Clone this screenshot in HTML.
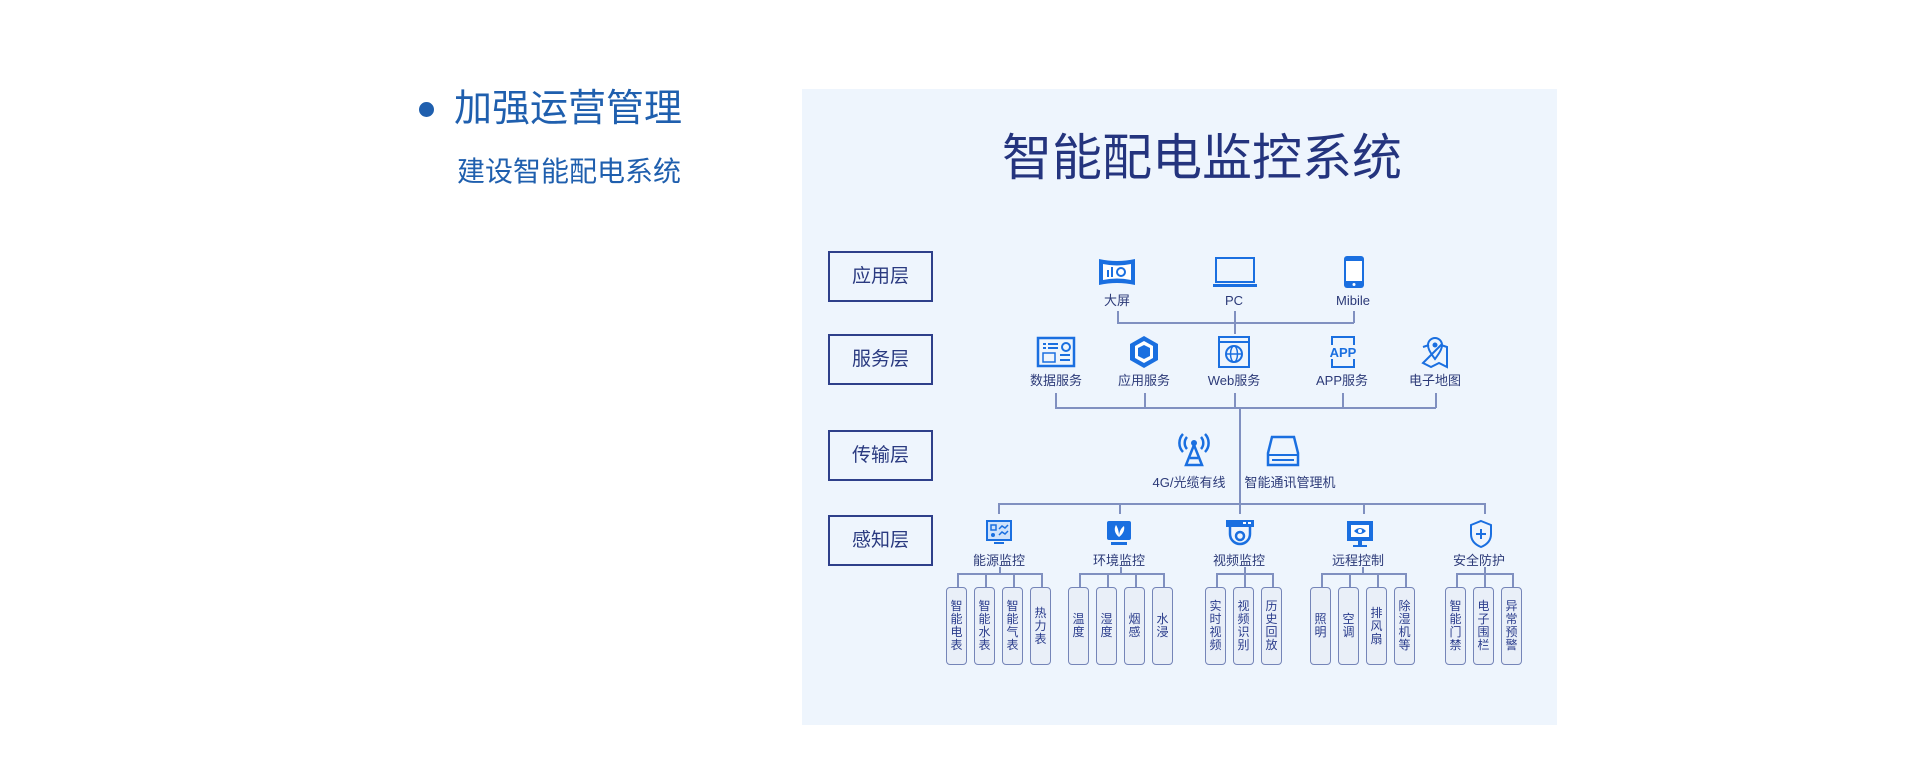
<!DOCTYPE html>
<html><head><meta charset="utf-8"><style>
body{margin:0;width:1920px;height:772px;background:#fff;position:relative;overflow:hidden;font-family:"Liberation Sans","Noto Sans CJK SC",sans-serif}
.a{position:absolute}
.lb{position:absolute;width:200px;text-align:center;font-size:13px;color:#2c3a78;line-height:16px}
.ly{position:absolute;left:828px;width:101px;height:47px;border:2px solid #2e3f8a;box-sizing:content-box;font-size:19px;color:#2a3a80;text-align:center;line-height:47px}
.bx{position:absolute;top:587px;width:19px;height:76px;border:1.5px solid #7585b8;border-radius:4px;background:#e9eff8;font-size:12px;line-height:13px;color:#2b3d8c;display:flex;align-items:center;justify-content:center;text-align:center;width:19px}
.h{position:absolute;height:1.5px;background:#8090c0}
.v{position:absolute;width:1.5px;background:#8090c0}
svg{position:absolute}
</style></head><body>
<div class="a" style="left:419px;top:102px;width:15px;height:15px;border-radius:50%;background:#1f5fae"></div>
<div class="a" style="left:454px;top:86px;font-size:38px;color:#1f5fae;line-height:46px">加强运营管理</div>
<div class="a" style="left:457px;top:155px;font-size:28px;color:#1f5fae;line-height:34px">建设智能配电系统</div>

<div class="a" style="left:802px;top:89px;width:755px;height:636px;background:#eef5fd"></div>
<div class="a" style="left:802px;top:128px;width:800px;text-align:center;font-size:50px;color:#24347e;line-height:60px">智能配电监控系统</div>

<div class="ly" style="top:251px">应用层</div>
<div class="ly" style="top:334px">服务层</div>
<div class="ly" style="top:430px">传输层</div>
<div class="ly" style="top:515px">感知层</div>

<svg style="left:1097px;top:257px" width="40" height="30" viewBox="0 0 40 30"><path d="M2 2 Q20 6 38 2 L38 28 Q20 24 2 28Z" fill="#1a6fe0"/><path d="M6 7 Q20 10 34 7 L34 23 Q20 20 6 23Z" fill="#fff"/><rect x="10" y="13" width="2" height="7" fill="#1a6fe0"/><rect x="14" y="10" width="2" height="10" fill="#1a6fe0"/><circle cx="24" cy="15" r="4" fill="none" stroke="#1a6fe0" stroke-width="2"/></svg>
<svg style="left:1212px;top:256px" width="46" height="32" viewBox="0 0 46 32"><rect x="4" y="2" width="38" height="24" fill="none" stroke="#1a6fe0" stroke-width="2"/><rect x="1" y="28" width="44" height="3" fill="#1a6fe0"/></svg>
<svg style="left:1342px;top:255px" width="24" height="34" viewBox="0 0 24 34"><rect x="2" y="1" width="20" height="32" rx="3" fill="#1a6fe0"/><rect x="4" y="6" width="16" height="20" fill="#fff"/><circle cx="12" cy="29.5" r="1.5" fill="#fff"/></svg>
<div class="lb" style="left:1017px;top:293px">大屏</div>
<div class="lb" style="left:1134px;top:293px">PC</div>
<div class="lb" style="left:1253px;top:293px">Mibile</div>
<div class="v" style="left:1117px;top:311px;height:12px"></div>
<div class="v" style="left:1353px;top:311px;height:12px"></div>
<div class="v" style="left:1234px;top:311px;height:23px"></div>
<div class="h" style="left:1117px;top:322px;width:237px"></div>

<svg style="left:1036px;top:336px" width="40" height="32" viewBox="0 0 40 32"><rect x="2" y="2" width="36" height="28" fill="none" stroke="#1a6fe0" stroke-width="2.5"/><rect x="7" y="7" width="3" height="2" fill="#1a6fe0"/><rect x="12" y="7" width="10" height="2" fill="#1a6fe0"/><rect x="7" y="11" width="3" height="2" fill="#1a6fe0"/><rect x="12" y="11" width="10" height="2" fill="#1a6fe0"/><circle cx="30" cy="11" r="4" fill="none" stroke="#1a6fe0" stroke-width="2"/><rect x="7" y="17" width="12" height="9" fill="none" stroke="#1a6fe0" stroke-width="1.5"/><rect x="24" y="18" width="10" height="2" fill="#1a6fe0"/><rect x="24" y="23" width="10" height="2" fill="#1a6fe0"/></svg>
<svg style="left:1128px;top:335px" width="32" height="34" viewBox="0 0 32 34"><path d="M16 1 L30 9 L30 25 L16 33 L2 25 L2 9Z" fill="#1a6fe0"/><path d="M16 6 L25 11 L25 23 L16 28 L7 23 L7 11Z" fill="#fff"/><path d="M16 10 L22 13 L22 21 L16 24 L10 21 L10 13Z" fill="#1a6fe0"/></svg>
<svg style="left:1217px;top:335px" width="34" height="34" viewBox="0 0 34 34"><rect x="2" y="2" width="30" height="30" fill="none" stroke="#1a6fe0" stroke-width="2"/><line x1="2" y1="7" x2="32" y2="7" stroke="#1a6fe0" stroke-width="2"/><circle cx="17" cy="19" r="8" fill="none" stroke="#1a6fe0" stroke-width="2"/><line x1="9" y1="19" x2="25" y2="19" stroke="#1a6fe0" stroke-width="1.5"/><ellipse cx="17" cy="19" rx="3.5" ry="8" fill="none" stroke="#1a6fe0" stroke-width="1.5"/></svg>
<svg style="left:1326px;top:335px" width="34" height="34" viewBox="0 0 34 34"><path d="M6 10 V2 H28 V10 M6 24 V32 H28 V24" fill="none" stroke="#1a6fe0" stroke-width="2"/><text x="17" y="22" text-anchor="middle" font-family="Liberation Sans" font-weight="bold" font-size="13" fill="#1a6fe0">APP</text></svg>
<svg style="left:1419px;top:335px" width="32" height="34" viewBox="0 0 32 34"><path d="M4 12 L10 10 M22 10 L28 12 L28 32 L20 28 L12 32 L4 28Z" fill="none" stroke="#1a6fe0" stroke-width="2"/><path d="M16 24 C10 16 9 13 9 10 A7 7 0 0 1 23 10 C23 13 22 16 16 24Z" fill="none" stroke="#1a6fe0" stroke-width="2"/><circle cx="16" cy="10" r="2.5" fill="#1a6fe0"/></svg>
<div class="lb" style="left:956px;top:373px">数据服务</div>
<div class="lb" style="left:1044px;top:373px">应用服务</div>
<div class="lb" style="left:1134px;top:373px">Web服务</div>
<div class="lb" style="left:1242px;top:373px">APP服务</div>
<div class="lb" style="left:1335px;top:373px">电子地图</div>
<div class="v" style="left:1055px;top:393px;height:15px"></div>
<div class="v" style="left:1144px;top:393px;height:15px"></div>
<div class="v" style="left:1234px;top:393px;height:15px"></div>
<div class="v" style="left:1342px;top:393px;height:15px"></div>
<div class="v" style="left:1435px;top:393px;height:15px"></div>
<div class="h" style="left:1055px;top:407px;width:381px"></div>

<svg style="left:1175px;top:431px" width="38" height="36" viewBox="0 0 38 36"><circle cx="19" cy="12" r="3" fill="#1a6fe0"/><path d="M12 6 A9 9 0 0 0 12 18 M26 6 A9 9 0 0 1 26 18 M8 3 A13 13 0 0 0 8 21 M30 3 A13 13 0 0 1 30 21" fill="none" stroke="#1a6fe0" stroke-width="2.5"/><path d="M19 14 L11 34 L27 34Z M15 27 H23" fill="none" stroke="#1a6fe0" stroke-width="2.5"/></svg>
<svg style="left:1266px;top:435px" width="34" height="32" viewBox="0 0 34 32"><path d="M6 2 H28 L32 18 V30 H2 V18Z" fill="none" stroke="#1a6fe0" stroke-width="2.5"/><line x1="2" y1="20" x2="32" y2="20" stroke="#1a6fe0" stroke-width="2"/><rect x="6" y="24" width="22" height="2" fill="#1a6fe0"/></svg>
<div class="lb" style="left:1089px;top:475px">4G/光缆有线</div>
<div class="lb" style="left:1190px;top:475px">智能通讯管理机</div>
<div class="v" style="left:1239px;top:408px;height:96px"></div>
<div class="v" style="left:1239px;top:492px;height:22px"></div>
<div class="h" style="left:998px;top:503px;width:487px"></div>
<div class="v" style="left:998px;top:503px;height:11px"></div>
<div class="v" style="left:1119px;top:503px;height:11px"></div>
<div class="v" style="left:1363px;top:503px;height:11px"></div>
<div class="v" style="left:1484px;top:503px;height:11px"></div>

<svg style="left:985px;top:519px" width="28" height="28" viewBox="0 0 28 28"><rect x="2" y="2" width="24" height="19" fill="#cfe2fb" stroke="#1a6fe0" stroke-width="2"/><rect x="6" y="6" width="5" height="5" fill="none" stroke="#1a6fe0" stroke-width="1.5"/><path d="M14 10 L17 7 L20 9 L23 6" fill="none" stroke="#1a6fe0" stroke-width="1.5"/><path d="M14 16 L17 13 L20 15 L23 12" fill="none" stroke="#1a6fe0" stroke-width="1.5"/><circle cx="8" cy="16" r="2" fill="#1a6fe0"/><rect x="9" y="23" width="10" height="2" fill="#1a6fe0"/></svg>
<svg style="left:1105px;top:519px" width="28" height="28" viewBox="0 0 28 28"><rect x="2" y="2" width="24" height="19" rx="2" fill="#1a6fe0"/><path d="M14 18 C9 14 9 9 11 6 C13 9 14 13 14 18 C14 13 16 9 19 7 C20 11 18 15 14 18Z" fill="#fff"/><rect x="6" y="23" width="16" height="3" fill="#1a6fe0"/></svg>
<svg style="left:1225px;top:519px" width="30" height="28" viewBox="0 0 30 28"><rect x="1" y="1" width="28" height="7" fill="#1a6fe0"/><rect x="18" y="3" width="3" height="2" fill="#fff"/><rect x="23" y="3" width="3" height="2" fill="#fff"/><path d="M5 8 V15 A10 10 0 0 0 25 15 V8" fill="none" stroke="#1a6fe0" stroke-width="2.5"/><circle cx="15" cy="17" r="4" fill="none" stroke="#1a6fe0" stroke-width="2.5"/></svg>
<svg style="left:1345px;top:520px" width="30" height="28" viewBox="0 0 30 28"><rect x="2" y="1" width="26" height="20" fill="#1a6fe0"/><rect x="6" y="5" width="18" height="12" fill="#fff"/><path d="M9 11 Q15 5 21 11 Q15 17 9 11Z" fill="#1a6fe0"/><circle cx="15" cy="11" r="2" fill="#fff"/><rect x="13" y="21" width="4" height="4" fill="#1a6fe0"/><rect x="8" y="25" width="14" height="2" fill="#1a6fe0"/></svg>
<svg style="left:1468px;top:519px" width="26" height="30" viewBox="0 0 26 30"><path d="M13 2 L23 6 V15 C23 22 18 26 13 28 C8 26 3 22 3 15 V6Z" fill="none" stroke="#1a6fe0" stroke-width="2"/><path d="M13 10 V20 M8 15 H18" stroke="#1a6fe0" stroke-width="2"/></svg>
<div class="lb" style="left:899px;top:553px">能源监控</div>
<div class="lb" style="left:1019px;top:553px">环境监控</div>
<div class="lb" style="left:1139px;top:553px">视频监控</div>
<div class="lb" style="left:1258px;top:553px">远程控制</div>
<div class="lb" style="left:1379px;top:553px">安全防护</div>

<div class="h" style="left:957px;top:573px;width:84px"></div>
<div class="h" style="left:1079px;top:573px;width:84px"></div>
<div class="h" style="left:1216px;top:573px;width:56px"></div>
<div class="h" style="left:1321px;top:573px;width:84px"></div>
<div class="h" style="left:1456px;top:573px;width:56px"></div>
<div class="v" style="left:999px;top:567px;height:7px"></div>
<div class="v" style="left:1120px;top:567px;height:7px"></div>
<div class="v" style="left:1244px;top:567px;height:7px"></div>
<div class="v" style="left:1362px;top:567px;height:7px"></div>
<div class="v" style="left:1484px;top:567px;height:7px"></div>

<div class="v" style="left:957px;top:573px;height:14px"></div><div class="bx" style="left:946px">智<br>能<br>电<br>表</div>
<div class="v" style="left:985px;top:573px;height:14px"></div><div class="bx" style="left:974px">智<br>能<br>水<br>表</div>
<div class="v" style="left:1013px;top:573px;height:14px"></div><div class="bx" style="left:1002px">智<br>能<br>气<br>表</div>
<div class="v" style="left:1041px;top:573px;height:14px"></div><div class="bx" style="left:1030px">热<br>力<br>表</div>

<div class="v" style="left:1079px;top:573px;height:14px"></div><div class="bx" style="left:1068px">温<br>度</div>
<div class="v" style="left:1107px;top:573px;height:14px"></div><div class="bx" style="left:1096px">湿<br>度</div>
<div class="v" style="left:1135px;top:573px;height:14px"></div><div class="bx" style="left:1124px">烟<br>感</div>
<div class="v" style="left:1163px;top:573px;height:14px"></div><div class="bx" style="left:1152px">水<br>浸</div>

<div class="v" style="left:1216px;top:573px;height:14px"></div><div class="bx" style="left:1205px">实<br>时<br>视<br>频</div>
<div class="v" style="left:1244px;top:573px;height:14px"></div><div class="bx" style="left:1233px">视<br>频<br>识<br>别</div>
<div class="v" style="left:1272px;top:573px;height:14px"></div><div class="bx" style="left:1261px">历<br>史<br>回<br>放</div>

<div class="v" style="left:1321px;top:573px;height:14px"></div><div class="bx" style="left:1310px">照<br>明</div>
<div class="v" style="left:1349px;top:573px;height:14px"></div><div class="bx" style="left:1338px">空<br>调</div>
<div class="v" style="left:1377px;top:573px;height:14px"></div><div class="bx" style="left:1366px">排<br>风<br>扇</div>
<div class="v" style="left:1405px;top:573px;height:14px"></div><div class="bx" style="left:1394px">除<br>湿<br>机<br>等</div>

<div class="v" style="left:1456px;top:573px;height:14px"></div><div class="bx" style="left:1445px">智<br>能<br>门<br>禁</div>
<div class="v" style="left:1484px;top:573px;height:14px"></div><div class="bx" style="left:1473px">电<br>子<br>围<br>栏</div>
<div class="v" style="left:1512px;top:573px;height:14px"></div><div class="bx" style="left:1501px">异<br>常<br>预<br>警</div>
</body></html>
